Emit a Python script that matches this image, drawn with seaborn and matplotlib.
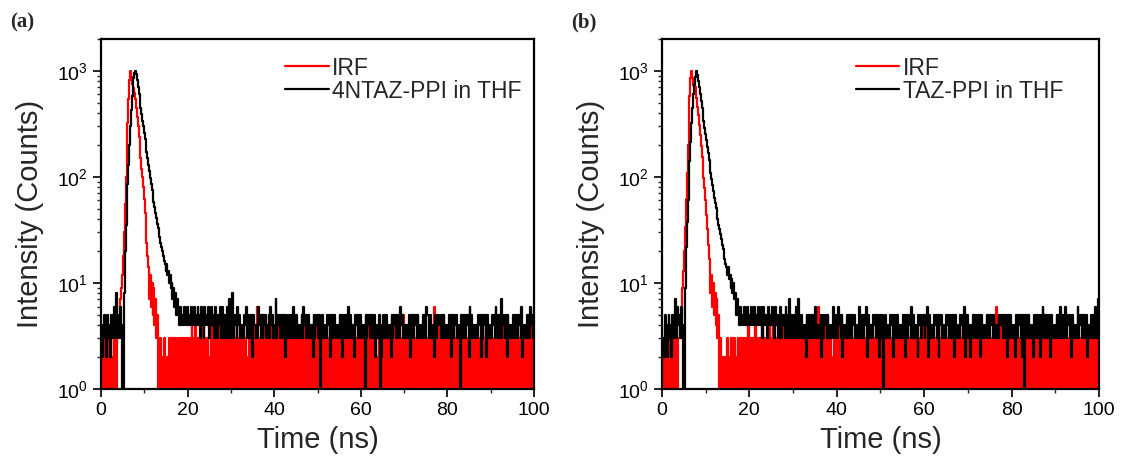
import numpy as np
import pandas as pd
import matplotlib
matplotlib.use("Agg")
import matplotlib.pyplot as plt
import seaborn as sns
from matplotlib.ticker import LogLocator, MultipleLocator, NullFormatter

# ---------------- data (counts per 0.2 ns channel) ----------------
time_step_ns = 0.2

# panel (a)
a_irf_head = "1313121413" "1312141314" "34579"
a_irf_peak = [12, 18, 30, 55, 100, 180, 320, 540, 820, 1000,
              880, 760, 700, 690, 620, 540, 450, 370, 300, 240,
              190, 150, 120, 100, 80, 62, 46, 33, 24, 18,
              14, 7, 12, 6, 10, 5, 9, 4, 7, 3, 5]
a_irf_tail = ("1213121312" "1213121313" "1312131313" "1313131314" "1314131313"
              "1413131312" "1314131313" "1413151313" "1313141313" "1413131314"
              "1312141313" "1413161313" "1314131313" "1413131314" "1313131413"
              "1314131312" "1413131314" "1313131413" "1314131313" "1413131314"
              "1313141313" "1214131314" "1313131413" "1413131313" "1314131314"
              "1312141313" "1413131313" "1314131413" "1315131313" "1413131314"
              "1313141313" "1314131316" "1313141313" "1413131314" "1313141313"
              "1314131312" "1413131314" "1313141313" "1314131313" "1413131314"
              "1313141313" "1314131314" "1313141313" "14131")
a_smp_head = "3423532453" "4253546385" "3536411"
a_smp_peak = [8, 20, 35, 55, 85, 130, 200, 300, 430, 580, 720, 850, 960, 1000,
              930, 820, 700, 600, 520, 450, 390, 340, 300, 262,
              228, 198, 172, 150, 130, 113, 98, 86, 75, 66,
              58, 52, 46, 41, 36, 33, 30, 27, 24, 22,
              20, 18, 16, 15, 13, 15, 12, 13, 10, 12,
              9, 10, 7, 9, 6, 8, 5, 7, 5, 6]
a_smp_tail = ("4645464546" "4546454645" "4645364536" "4546354645" "3645354636"
              "3545363735" "3835453645" "3434354635" "3545254434" "3645353545"
              "3435364534" "3735453545" "3525344535" "3645353434" "3536453545"
              "3434253545" "3513453434" "3545253545" "3434354525" "3545363534"
              "3425453545" "3434153545" "3545352434" "3512453545" "3434253545"
              "3545364534" "3434352545" "3545354434" "3545365535" "3434253545"
              "4535453434" "3545253545" "3434153545" "3545263534" "3434354525"
              "3545253434" "3545364535" "3735453525" "3434353545" "3545362434"
              "3545364536")

# panel (b)
b_irf_head = "1312131413" "1214131313" "34569"
b_irf_peak = [13, 20, 34, 62, 110, 200, 350, 580, 860, 1000,
              860, 740, 690, 700, 630, 550, 460, 380, 310, 250,
              195, 155, 122, 98, 78, 60, 44, 32, 23, 17,
              13, 8, 12, 6, 10, 5, 8, 4, 7, 3, 5]
b_irf_tail = ("1312121213" "1213131312" "1313131313" "1314131313" "1413131314"
              "1313131413" "1413131313" "1315131413" "1313141313" "1314131313"
              "1413131314" "1316131313" "1413131312" "1314131413" "1313141313"
              "1413131314" "1313141313" "1314131314" "1313141313" "1413131313"
              "1314131413" "1313141313" "1413131313" "1314131413" "1313131314"
              "1413131313" "1314131413" "1313141313" "1415131313" "1314131313"
              "1413131314" "1313141613" "1314131313" "1413131314" "1313141313"
              "1413131314" "1314131313" "1413131313" "1313141313" "1314131413"
              "1313141313" "1413131314" "1314131313" "13141")
b_smp_head = "4232532453" "4253547364" "5363411"
b_smp_peak = [9, 22, 38, 60, 92, 140, 215, 320, 450, 600, 740, 870, 970, 1000,
              920, 810, 700, 600, 515, 445, 385, 335, 292, 255,
              222, 193, 168, 146, 127, 110, 96, 84, 73, 64,
              57, 51, 45, 40, 35, 32, 29, 26, 23, 21,
              19, 17, 15, 14, 12, 14, 11, 12, 9, 11,
              8, 10, 7, 8, 5, 7, 5, 6, 4, 6]
b_smp_tail = ("4546454645" "4645464546" "4546364545" "3645464536" "4535463545"
              "3645373545" "3536374535" "3434254535" "3545363434" "3525354535"
              "3434364535" "3645352434" "3535453545" "3434363545" "3546253434"
              "3545354525" "3521453434" "3545253545" "3434354525" "3545363534"
              "3425453545" "3546253434" "3545352545" "3434354535" "3545253434"
              "3545362545" "3424354535" "3545253434" "3545354535" "3434354545"
              "3535245354" "3434253545" "3525153545" "3434254535" "3525364535"
              "3545253434" "3545363545" "3635453525" "3434363545" "3545352434"
              "3535363547")

panel_letters = ["(a)", "(b)"]
irf_label = "IRF"
sample_labels = ["4NTAZ-PPI in THF", "TAZ-PPI in THF"]
x_label = "Time (ns)"
y_label = "Intensity (Counts)"


def build(head, peak, tail):
    return [int(c) for c in head] + list(peak) + [int(c) for c in tail]


def frame(values):
    n = len(values)
    return pd.DataFrame({"t": np.round(np.arange(n) * time_step_ns, 3),
                         "counts": np.asarray(values, dtype=float)})


panels = [
    (frame(build(a_irf_head, a_irf_peak, a_irf_tail)),
     frame(build(a_smp_head, a_smp_peak, a_smp_tail))),
    (frame(build(b_irf_head, b_irf_peak, b_irf_tail)),
     frame(build(b_smp_head, b_smp_peak, b_smp_tail))),
]

# ---------------- style ----------------
sns.set_style("ticks")
plt.rcParams["font.family"] = ["Liberation Sans", "DejaVu Sans"]
plt.rcParams["mathtext.fontset"] = "custom"
plt.rcParams["mathtext.rm"] = "Liberation Sans"
plt.rcParams["mathtext.it"] = "Liberation Sans:italic"

fig = plt.figure(figsize=(11.21, 4.59), dpi=100)
axes_rects = [[0.0901, 0.1525, 0.3863, 0.7625],
              [0.5905, 0.1525, 0.3898, 0.7625]]
legend_x = [0.425, 0.443]

for i, (rect, (irf, smp)) in enumerate(zip(axes_rects, panels)):
    ax = fig.add_axes(rect)
    sns.lineplot(data=irf, x="t", y="counts", ax=ax, color="#ff0000", lw=1.6,
                 estimator=None, sort=False, label=irf_label, drawstyle="steps-mid")
    sns.lineplot(data=smp, x="t", y="counts", ax=ax, color="#000000", lw=1.6,
                 estimator=None, sort=False, label=sample_labels[i], drawstyle="steps-mid")
    ax.set_yscale("log")
    ax.set_xlim(0, 100)
    ax.set_ylim(1, 2000)
    ax.xaxis.set_major_locator(MultipleLocator(20))
    ax.xaxis.set_minor_locator(MultipleLocator(10))
    ax.yaxis.set_major_locator(LogLocator(base=10, numticks=10))
    ax.yaxis.set_minor_locator(LogLocator(base=10, subs=np.arange(2, 10), numticks=20))
    ax.yaxis.set_minor_formatter(NullFormatter())
    ax.tick_params(which="major", direction="out", length=6, width=1.2,
                   labelsize=14, top=False, right=False, colors="black")
    ax.tick_params(which="minor", direction="out", length=3, width=1.0,
                   top=False, right=False)
    for sp in ax.spines.values():
        sp.set_linewidth(1.6)
        sp.set_color("black")
        sp.set_visible(True)
    ax.set_xlabel(x_label, fontsize=21, labelpad=5)
    ax.set_ylabel(y_label, fontsize=21, labelpad=9)
    leg = ax.legend(loc="upper left", bbox_to_anchor=(legend_x[i], 0.95), frameon=False,
                    fontsize=16.5, handlelength=1.9, handletextpad=0.15,
                    labelspacing=0.0, borderaxespad=0.0, borderpad=0.0)
    for ln in leg.get_lines():
        ln.set_linewidth(1.6)
        ln.set_drawstyle("default")
    fig.text(rect[0] - 0.081, 0.95, panel_letters[i], fontsize=15, fontweight="bold",
             family=["Liberation Serif", "DejaVu Serif"], va="center", ha="left")

fig.savefig("out.png", dpi=100)
